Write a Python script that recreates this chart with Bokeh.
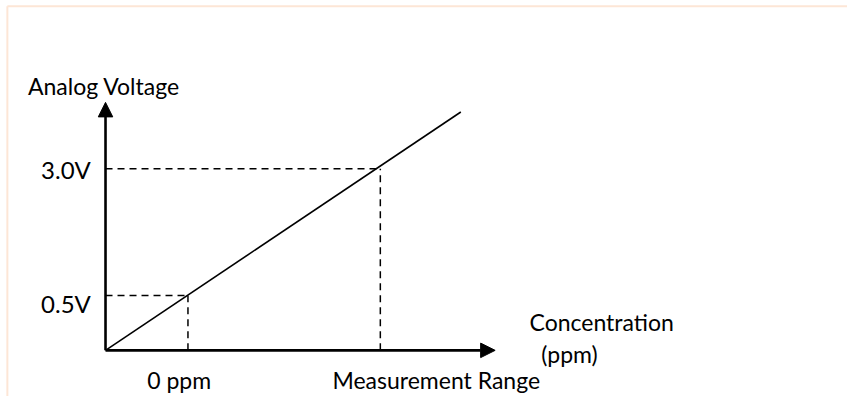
from bokeh.plotting import figure
from bokeh.models import Range1d, Arrow, NormalHead
from bokeh.core.properties import value
from bokeh.embed import file_html
from bokeh.resources import INLINE

# ---- diagram data (schematic units, origin at axes crossing) ----
level_names = ["0.5V", "3.0V"]          # voltage levels on the vertical axis
level_y = [57, 189]                     # height of each level
level_x = [84, 280]                     # concentration where the line reaches the level
conc_labels = ["0  ppm", "Measurement Range"]
line_x = [0, 362]                       # response line
line_y = [0, 248]
axis_x_end = 397
axis_y_end = 258
y_title = "Analog Voltage"
x_title = ["Concentration", "(ppm)"]

FONT = "Lato"

p = figure(width=847, height=396, output_backend="svg", toolbar_location=None,
           x_range=Range1d(-107, 756), y_range=Range1d(-48, 364),
           min_border=0)
p.axis.visible = False
p.grid.visible = False
p.outline_line_color = None
p.background_fill_color = "white"
p.border_fill_color = "white"

# light peach frame (top and left)
p.line([-100, 756], [358, 358], line_color="#fde6d6", line_width=2)
p.line([-100, -100], [-48, 358], line_color="#fde6d6", line_width=2)

# dashed guides
for lx, ly in zip(level_x, level_y):
    p.line([0, lx], [ly, ly], line_color="black", line_width=1.5, line_dash="7 5")
    p.line([lx, lx], [0, ly], line_color="black", line_width=1.5, line_dash="7 5")

# response line
p.line(line_x, line_y, line_color="black", line_width=1.6)

# axes with arrow heads
p.add_layout(Arrow(end=NormalHead(size=14.5, fill_color="black", line_color="black"),
                   x_start=0, y_start=0, x_end=axis_x_end, y_end=0,
                   line_color="black", line_width=2.6))
p.add_layout(Arrow(end=NormalHead(size=14.5, fill_color="black", line_color="black"),
                   x_start=0, y_start=0, x_end=0, y_end=axis_y_end,
                   line_color="black", line_width=2.6))

# voltage level labels
p.text(x=[-15, -15], y=[49, 188], text=level_names, text_font=value(FONT),
       text_font_size="24px", text_align="right", text_baseline="alphabetic",
       text_color="black")

# concentration labels
p.text(x=[78, 337], y=[-31, -31], text=conc_labels, text_font=value(FONT),
       text_font_size="23px", text_align="center", text_baseline="alphabetic",
       text_color="black")

# axis titles
p.text(x=[-79], y=[275], text=[y_title], text_font=value(FONT),
       text_font_size="23px", text_align="left", text_baseline="alphabetic",
       text_color="black")
p.text(x=[432, 444], y=[30, -4], text=x_title, text_font=value(FONT),
       text_font_size="23px", text_align="left", text_baseline="alphabetic",
       text_color="black")

open("out.html", "w").write(file_html(p, INLINE))
